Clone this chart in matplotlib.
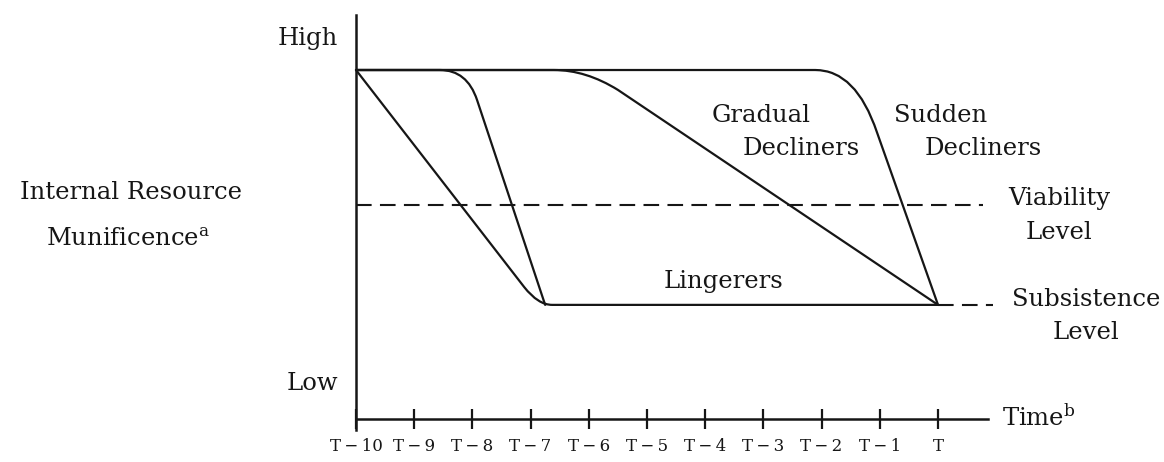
import matplotlib
matplotlib.use("Agg")
import matplotlib.pyplot as plt
from matplotlib.path import Path
from matplotlib.patches import PathPatch

# ── levels (time axis = 0, "high" plateau = 10) ──
LEVEL_HIGH = 10.0
LEVEL_VIABILITY = 6.13
LEVEL_SUBSISTENCE = 3.27

# time ticks: 0 = T-10 ... 10 = T
tick_pos = list(range(11))
tick_labels = ["T\u2009\u2212\u200910", "T\u2009\u2212\u20099", "T\u2009\u2212\u20098",
               "T\u2009\u2212\u20097", "T\u2009\u2212\u20096", "T\u2009\u2212\u20095",
               "T\u2009\u2212\u20094", "T\u2009\u2212\u20093", "T\u2009\u2212\u20092",
               "T\u2009\u2212\u20091", "T"]

# decline trajectories: key points, the middle ones shape a rounded corner
lingerer_steep_x = [0, 1.44, 1.91, 2.08, 3.25]
lingerer_steep_y = [10, 10, 10, 9.14, 3.27]

lingerer_slow_x = [0, 2.89, 3.13, 3.37, 10]
lingerer_slow_y = [10, 3.78, 3.27, 3.27, 3.27]

gradual_x = [0, 3.40, 3.95, 4.50, 10]
gradual_y = [10, 10, 10, 9.43, 3.27]

sudden_x = [0, 7.89, 8.59, 8.95, 10]
sudden_y = [10, 10, 10, 8.22, 3.27]

INK = "#161616"
FONT = "DejaVu Serif"
plt.rcParams["font.family"] = FONT
plt.rcParams["mathtext.fontset"] = "dejavuserif"

fig = plt.figure(figsize=(11.64, 4.62), dpi=100)
ax = fig.add_axes([0, 0, 1, 1])
ax.set_xlim(-6.117, 13.883)
ax.set_ylim(-1.232, 12.006)
ax.patch.set_visible(False)

codes = [Path.MOVETO, Path.LINETO, Path.CURVE3, Path.CURVE3, Path.LINETO]
for xs, ys in [(lingerer_steep_x, lingerer_steep_y),
               (lingerer_slow_x, lingerer_slow_y),
               (gradual_x, gradual_y),
               (sudden_x, sudden_y)]:
    path = Path(list(zip(xs, ys)), codes)
    ax.add_patch(PathPatch(path, fill=False, edgecolor=INK, lw=1.6,
                           capstyle="round", joinstyle="round", clip_on=False))

# threshold lines
ax.plot([0, 10.77], [LEVEL_VIABILITY] * 2, color=INK, lw=1.5,
        linestyle=(0, (7.5, 4)), clip_on=False)
ax.plot([10, 10.94], [LEVEL_SUBSISTENCE] * 2, color=INK, lw=1.5,
        linestyle=(0, (7.5, 4)), clip_on=False)

# axes drawn as spines
for s in ["top", "right"]:
    ax.spines[s].set_visible(False)
ax.spines["left"].set_position(("data", 0))
ax.spines["left"].set_bounds(-0.315, 11.58)
ax.spines["bottom"].set_position(("data", 0))
ax.spines["bottom"].set_bounds(0, 10.86)
for s in ["left", "bottom"]:
    ax.spines[s].set_linewidth(1.8)
    ax.spines[s].set_color(INK)

ax.set_xticks(tick_pos)
ax.set_xticklabels(tick_labels)
ax.tick_params(axis="x", direction="inout", length=15, width=1.6,
               color=INK, labelsize=12, pad=6, labelcolor=INK)
ax.set_yticks([])

txt = dict(color=INK, fontsize=17.5, va="baseline")
ax.text(-0.31, 10.72, "High", ha="right", **txt)
ax.text(-0.31, 0.83, "Low", ha="right", **txt)
ax.text(-3.87, 6.30, "Internal Resource", ha="center", **txt)
ax.text(-3.92, 4.96, "Munificence$^{\\mathrm{a}}$", ha="center", **txt)
ax.text(11.10, -0.2, "Time$^{\\mathrm{b}}$", ha="left", **txt)

ax.text(6.96, 8.51, "Gradual", ha="center", **txt)
ax.text(7.65, 7.56, "Decliners", ha="center", **txt)
ax.text(10.05, 8.51, "Sudden", ha="center", **txt)
ax.text(10.77, 7.56, "Decliners", ha="center", **txt)
ax.text(6.31, 3.75, "Lingerers", ha="center", **txt)
ax.text(12.08, 6.13, "Viability", ha="center", **txt)
ax.text(12.08, 5.16, "Level", ha="center", **txt)
ax.text(12.55, 3.24, "Subsistence", ha="center", **txt)
ax.text(12.55, 2.29, "Level", ha="center", **txt)

fig.savefig("out.png", dpi=100, facecolor="white")
